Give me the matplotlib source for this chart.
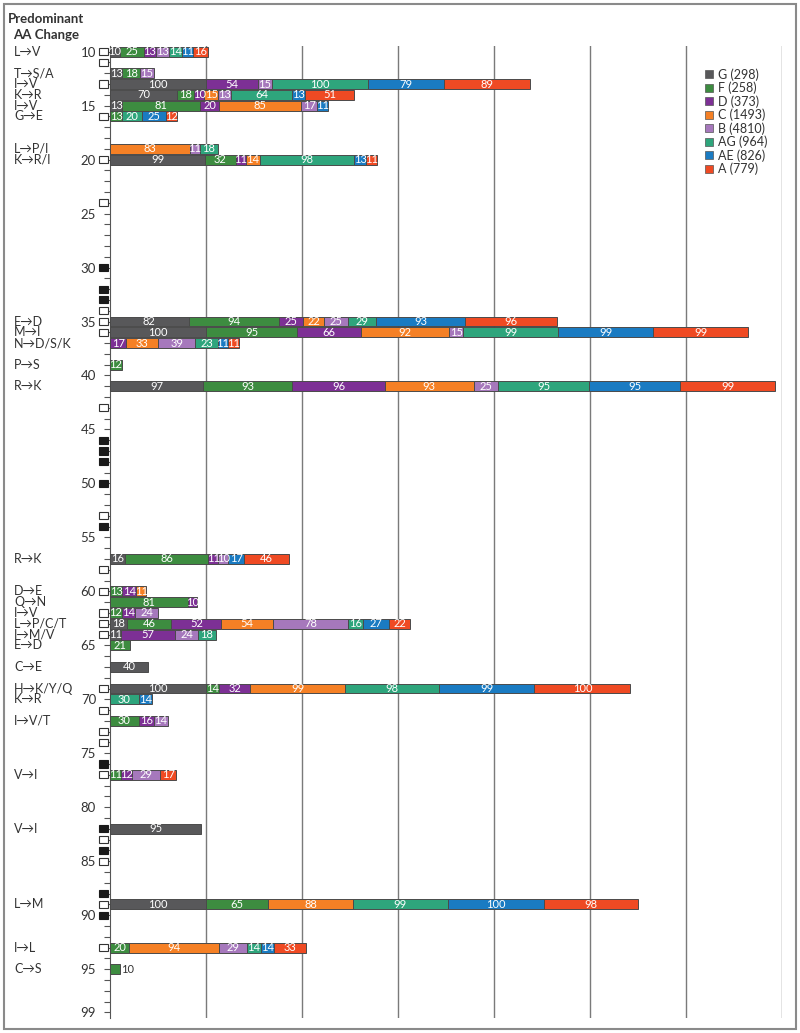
import matplotlib
matplotlib.use("Agg")
import matplotlib.pyplot as plt
import matplotlib.transforms as mtransforms
from matplotlib.patches import Rectangle
from matplotlib.lines import Line2D

plt.rcParams['font.family'] = ['Lato', 'DejaVu Sans']

# residue positions that carry a bar, and the predominant amino acid change
positions = [10, 12, 13, 14, 15, 16, 19, 20, 35, 36, 37, 39, 41, 57, 60, 61, 62,
             63, 64, 65, 67, 69, 70, 72, 77, 82, 89, 93, 95]
changes = ["L→V", "T→S/A", "I→V", "K→R", "I→V", "G→E", "L→P/I", "K→R/I", "E→D",
           "M→I", "N→D/S/K", "P→S", "R→K", "R→K", "D→E", "Q→N", "I→V", "L→P/C/T",
           "I→M/V", "E→D", "C→E", "H→K/Y/Q", "K→R", "I→V/T", "V→I", "V→I", "L→M",
           "I→L", "C→S"]

# percent of each subtype with the change (0 = not shown)
G  = [10, 13, 100, 70, 13, 0, 0, 99, 82, 100, 0, 0, 97, 16, 0, 0, 0, 18, 11, 0, 40, 100, 0, 0, 0, 95, 100, 0, 0]
F  = [25, 18, 0, 18, 81, 13, 0, 32, 94, 95, 0, 12, 93, 86, 13, 81, 12, 46, 0, 21, 0, 14, 0, 30, 11, 0, 65, 20, 10]
D  = [13, 0, 54, 10, 20, 0, 0, 11, 25, 66, 17, 0, 96, 11, 14, 10, 14, 52, 57, 0, 0, 32, 0, 16, 12, 0, 0, 0, 0]
C  = [0, 0, 0, 15, 85, 0, 83, 14, 22, 92, 33, 0, 93, 0, 11, 0, 0, 54, 0, 0, 0, 99, 0, 0, 0, 0, 88, 94, 0]
B  = [13, 15, 15, 13, 17, 0, 11, 0, 25, 15, 39, 0, 25, 10, 0, 0, 24, 78, 24, 0, 0, 0, 0, 14, 29, 0, 0, 29, 0]
AG = [14, 0, 100, 64, 0, 20, 18, 98, 29, 99, 23, 0, 95, 0, 0, 0, 0, 16, 18, 0, 0, 98, 30, 0, 0, 0, 99, 14, 0]
AE = [11, 0, 79, 13, 11, 25, 0, 13, 93, 99, 11, 0, 95, 17, 0, 0, 0, 27, 0, 0, 0, 99, 14, 0, 0, 0, 100, 14, 0]
A  = [16, 0, 89, 51, 0, 12, 0, 11, 96, 99, 11, 0, 99, 46, 0, 0, 0, 22, 0, 0, 0, 100, 0, 0, 17, 0, 98, 33, 0]

subtypes = ["G", "F", "D", "C", "B", "AG", "AE", "A"]
counts = [298, 258, 373, 1493, 4810, 964, 826, 779]
colors = ["#58585a", "#3d8c40", "#7d3095", "#f58025", "#a678bc", "#2ea57c", "#1a7bc2", "#ef4a23"]

# markers next to the axis
open_boxes = [10, 11, 13, 16, 20, 24, 34, 35, 36, 43, 53, 58, 60, 62, 63, 64, 69,
              71, 73, 74, 77, 83, 85, 89, 93]
filled_boxes = [30, 32, 33, 46, 47, 48, 50, 54, 76, 82, 84, 88, 90]

fig = plt.figure(figsize=(8, 10.33), dpi=100)
ax = fig.add_axes([0.1375, 0.0148, 0.84, 0.9404])

series = [G, F, D, C, B, AG, AE, A]
left = [0] * len(positions)
for vals, col in zip(series, colors):
    for i, v in enumerate(vals):
        if v == 0:
            continue
        ax.barh(positions[i], v, left=left[i], height=0.92, color=col,
                edgecolor="#4a4a4a", linewidth=0.7, zorder=3)
        if positions[i] == 95:
            # bar too narrow, label sits outside
            ax.text(left[i] + v + 1.5, positions[i], str(v), ha="left", va="center",
                    fontsize=8, color="#333333", zorder=4)
        else:
            ax.text(left[i] + v / 2, positions[i], str(v), ha="center", va="center",
                    fontsize=8, color="white", zorder=4)
        left[i] += v

ax.set_xlim(0, 700)
ax.set_ylim(99.5, 9.5)
ax.set_xticks(range(100, 701, 100))
ax.xaxis.grid(True, color="#7a7a7a", linewidth=1)
ax.set_axisbelow(True)
ax.tick_params(axis="x", length=0, labelbottom=False)
for s in ["top", "right", "bottom"]:
    ax.spines[s].set_visible(False)
ax.spines["left"].set_color("#555555")

ytl = [10, 15, 20, 25, 30, 35, 40, 45, 50, 55, 60, 65, 70, 75, 80, 85, 90, 95, 99]
ax.set_yticks(range(10, 100))
ax.set_yticklabels([str(t) if t in ytl else "" for t in range(10, 100)])
ax.tick_params(axis="y", length=4, width=0.8, color="#555555", pad=6,
               labelsize=9.5, labelcolor="#333333")

trans = mtransforms.blended_transform_factory(ax.transAxes, ax.transData)
for p in open_boxes:
    ax.add_patch(Rectangle((-0.0164, p - 0.33), 0.0134, 0.66, transform=trans,
                           facecolor="white", edgecolor="#333333", lw=0.8,
                           clip_on=False, zorder=6))
for p in filled_boxes:
    ax.add_patch(Rectangle((-0.0164, p - 0.33), 0.0134, 0.66, transform=trans,
                           facecolor="#1a1a1a", edgecolor="#1a1a1a", lw=0.8,
                           clip_on=False, zorder=6))

tlab = mtransforms.blended_transform_factory(fig.transFigure, ax.transData)
for p, c in zip(positions, changes):
    ax.text(14 / 800, p, c, transform=tlab, ha="left", va="center", fontsize=9,
            color="#333333", clip_on=False)

fig.text(46 / 800, 1 - 27 / 1033, "Predominant\nAA Change", ha="center", va="center",
         fontsize=9.5, fontweight="bold", color="#333333", linespacing=1.45)

handles = [Line2D([], [], marker="s", ls="", markersize=6, markerfacecolor=c,
                  markeredgecolor="#555555", markeredgewidth=0.5) for c in colors]
labels = [f"{s} ({n})" for s, n in zip(subtypes, counts)]
fig.legend(handles, labels, loc="upper left", bbox_to_anchor=(698 / 800, 1 - 63 / 1033),
           frameon=False, fontsize=9, labelspacing=0.08, handletextpad=0.3,
           handlelength=0.9, borderaxespad=0, labelcolor="#333333")

fig.patches.append(Rectangle((4 / 800, 4 / 1033), 792 / 800, 1025 / 1033,
                             transform=fig.transFigure, fill=False,
                             edgecolor="#8a8a8a", lw=1.5))

fig.savefig("out.png", dpi=100)
